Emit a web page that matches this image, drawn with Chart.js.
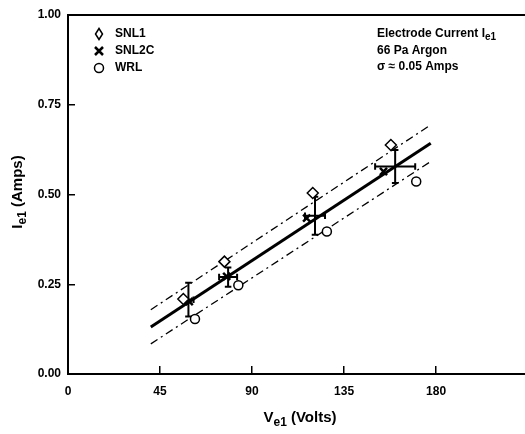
<!DOCTYPE html>
<html>
<head>
<meta charset="utf-8">
<script src="https://cdn.jsdelivr.net/npm/chart.js@4.4.0/dist/chart.umd.min.js"></script>
<style>
html, body { margin: 0; padding: 0; background: #fff; }
#wrap { width: 525px; height: 434px; }
</style>
</head>
<body>
<div id="wrap"><canvas id="myChart"></canvas></div>
<script>
// axis ticks
var xTicks = [0, 45, 90, 135, 180];
var yTicks = [0, 0.25, 0.5, 0.75, 1.0];

// measured points (volts, amps)
var snl1V = [56.4, 76.5, 119.7, 157.9];
var snl1I = [0.209, 0.313, 0.504, 0.638];
var snl2cV = [59.3, 77.6, 116.7, 154.3];
var snl2cI = [0.202, 0.272, 0.434, 0.564];
var wrlV = [62.1, 83.3, 126.6, 170.3];
var wrlI = [0.153, 0.247, 0.397, 0.536];

// error bars: centre and half widths
var errV = [58.9, 78.3, 120.8, 160.0];
var errI = [0.207, 0.270, 0.441, 0.578];
var errDV = [2.5, 4.4, 4.9, 9.8];
var errDI = [0.047, 0.027, 0.053, 0.046];

// fit line and +/- sigma band
var fitV = [40.5, 177.4];
var fitI = [0.131, 0.643];
var upperI = [0.179, 0.694];
var lowerI = [0.084, 0.592];

var seriesNames = ['SNL1', 'SNL2C', 'WRL'];
var noteLines = ['Electrode Current I|e1', '66 Pa Argon', '\u03c3 \u2248 0.05 Amps'];

var FONT = 'bold 12px "Liberation Sans", Arial, sans-serif';
var capV = 1.6, capI = 0.009;

function pts(xs, ys) {
    return xs.map(function (x, i) { return {x: x, y: ys[i]}; });
}

function errorSegments() {
    var out = [];
    var gap = {x: null, y: null};
    for (var i = 0; i < errV.length; i++) {
        var v = errV[i], c = errI[i], dv = errDV[i], di = errDI[i];
        out.push({x: v, y: c - di}, {x: v, y: c + di}, gap);
        out.push({x: v - capV, y: c + di}, {x: v + capV, y: c + di}, gap);
        out.push({x: v - capV, y: c - di}, {x: v + capV, y: c - di}, gap);
        out.push({x: v - dv, y: c}, {x: v + dv, y: c}, gap);
        out.push({x: v - dv, y: c - capI}, {x: v - dv, y: c + capI}, gap);
        out.push({x: v + dv, y: c - capI}, {x: v + dv, y: c + capI}, gap);
    }
    return out;
}

// text with subscript: "main|sub|main..." alternating
function drawSubText(ctx, str, x, y, size, align) {
    var parts = str.split('|');
    var mainF = 'bold ' + size + 'px "Liberation Sans", Arial, sans-serif';
    var subF = 'bold ' + Math.round(size * 0.8) + 'px "Liberation Sans", Arial, sans-serif';
    var total = 0, widths = [];
    parts.forEach(function (p, i) {
        ctx.font = i % 2 ? subF : mainF;
        var w = ctx.measureText(p).width;
        widths.push(w);
        total += w;
    });
    var cx = align === 'center' ? x - total / 2 : x;
    ctx.textAlign = 'left';
    ctx.textBaseline = 'middle';
    parts.forEach(function (p, i) {
        ctx.font = i % 2 ? subF : mainF;
        ctx.fillText(p, cx, i % 2 ? y + size * 0.3 : y);
        cx += widths[i];
    });
}

var extras = {
    id: 'extras',
    afterDraw: function (chart) {
        var ctx = chart.ctx;
        var a = chart.chartArea;
        ctx.save();
        ctx.fillStyle = '#000';
        ctx.strokeStyle = '#000';
        // top frame
        ctx.lineWidth = 2;
        ctx.beginPath();
        ctx.moveTo(a.left, a.top);
        ctx.lineTo(a.right, a.top);
        ctx.stroke();

        // legend
        var lx = 99, ly = 34;
        ctx.lineWidth = 1.5;
        ctx.beginPath();
        ctx.moveTo(lx, ly - 5.5); ctx.lineTo(lx + 3.5, ly); ctx.lineTo(lx, ly + 5.5); ctx.lineTo(lx - 3.5, ly);
        ctx.closePath();
        ctx.stroke();
        ctx.lineWidth = 2.5;
        ctx.beginPath();
        ctx.moveTo(lx - 4, ly + 13); ctx.lineTo(lx + 4, ly + 21);
        ctx.moveTo(lx + 4, ly + 13); ctx.lineTo(lx - 4, ly + 21);
        ctx.stroke();
        ctx.lineWidth = 1.5;
        ctx.beginPath();
        ctx.arc(lx, ly + 34, 4.5, 0, Math.PI * 2);
        ctx.stroke();
        ctx.font = FONT;
        ctx.textAlign = 'left';
        ctx.textBaseline = 'middle';
        seriesNames.forEach(function (n, i) {
            ctx.fillText(n, lx + 16, ly + i * 17);
        });

        // note
        noteLines.forEach(function (t, i) {
            drawSubText(ctx, t, 377, 34 + i * 16.5, 12, 'left');
        });

        // axis titles
        drawSubText(ctx, 'V|e1| (Volts)', 300, 418, 15, 'center');
        ctx.translate(18, 192);
        ctx.rotate(-Math.PI / 2);
        drawSubText(ctx, 'I|e1| (Amps)', 0, 0, 15, 'center');
        ctx.restore();
    }
};

var tickFont = {family: '"Liberation Sans", Arial, sans-serif', size: 12, weight: 'bold'};

var ctxx = document.getElementById('myChart');
var myChartt = new Chart(ctxx, {
    type: 'scatter',
    data: {
        datasets: [
            {
                label: 'SNL1',
                data: pts(snl1V, snl1I),
                pointStyle: 'rectRot',
                pointRadius: 5.5,
                borderColor: '#000',
                backgroundColor: '#fff',
                borderWidth: 1.5
            },
            {
                label: 'SNL2C',
                data: pts(snl2cV, snl2cI),
                pointStyle: 'crossRot',
                pointRadius: 5,
                borderColor: '#000',
                borderWidth: 2.5
            },
            {
                label: 'WRL',
                data: pts(wrlV, wrlI),
                pointStyle: 'circle',
                pointRadius: 4.5,
                borderColor: '#000',
                backgroundColor: '#fff',
                borderWidth: 1.5
            },
            {
                label: 'error',
                data: errorSegments(),
                showLine: true,
                pointRadius: 0,
                borderColor: '#000',
                borderWidth: 2
            },
            {
                label: 'fit',
                data: pts(fitV, fitI),
                showLine: true,
                pointRadius: 0,
                borderColor: '#000',
                borderWidth: 3
            },
            {
                label: 'upper',
                data: pts(fitV, upperI),
                showLine: true,
                pointRadius: 0,
                borderColor: '#000',
                borderWidth: 1.3,
                borderDash: [8, 4, 2, 4]
            },
            {
                label: 'lower',
                data: pts(fitV, lowerI),
                showLine: true,
                pointRadius: 0,
                borderColor: '#000',
                borderWidth: 1.3,
                borderDash: [8, 4, 2, 4]
            }
        ]
    },
    options: {
        responsive: true,
        maintainAspectRatio: false,
        animation: false,
        layout: {autoPadding: false, padding: {top: 15, right: 0, left: 0, bottom: 0}},
        plugins: {
            legend: {display: false},
            tooltip: {enabled: false}
        },
        scales: {
            x: {
                type: 'linear',
                min: 0,
                max: 223.5,
                afterBuildTicks: function (s) {
                    s.ticks = xTicks.map(function (v) { return {value: v}; });
                },
                afterFit: function (s) {
                    s.height = 60;
                    s.paddingLeft = 0; s.paddingRight = 0;
                },
                grid: {drawOnChartArea: false, drawTicks: true, tickLength: -8, color: '#000', lineWidth: 1.5},
                border: {display: true, color: '#000', width: 2},
                ticks: {color: '#000', font: tickFont, padding: 18, maxRotation: 0,
                    callback: function (v) { return String(v); }}
            },
            y: {
                type: 'linear',
                min: 0,
                max: 1,
                afterBuildTicks: function (s) {
                    s.ticks = yTicks.map(function (v) { return {value: v}; });
                },
                afterFit: function (s) {
                    s.width = 68;
                    s.paddingTop = 0; s.paddingBottom = 0;
                },
                grid: {drawOnChartArea: false, drawTicks: true, tickLength: -7, color: '#000', lineWidth: 1.5},
                border: {display: true, color: '#000', width: 2},
                ticks: {color: '#000', font: tickFont, padding: 14,
                    callback: function (v) { return v.toFixed(2); }}
            }
        }
    },
    plugins: [extras]
});
</script>
</body>
</html>
